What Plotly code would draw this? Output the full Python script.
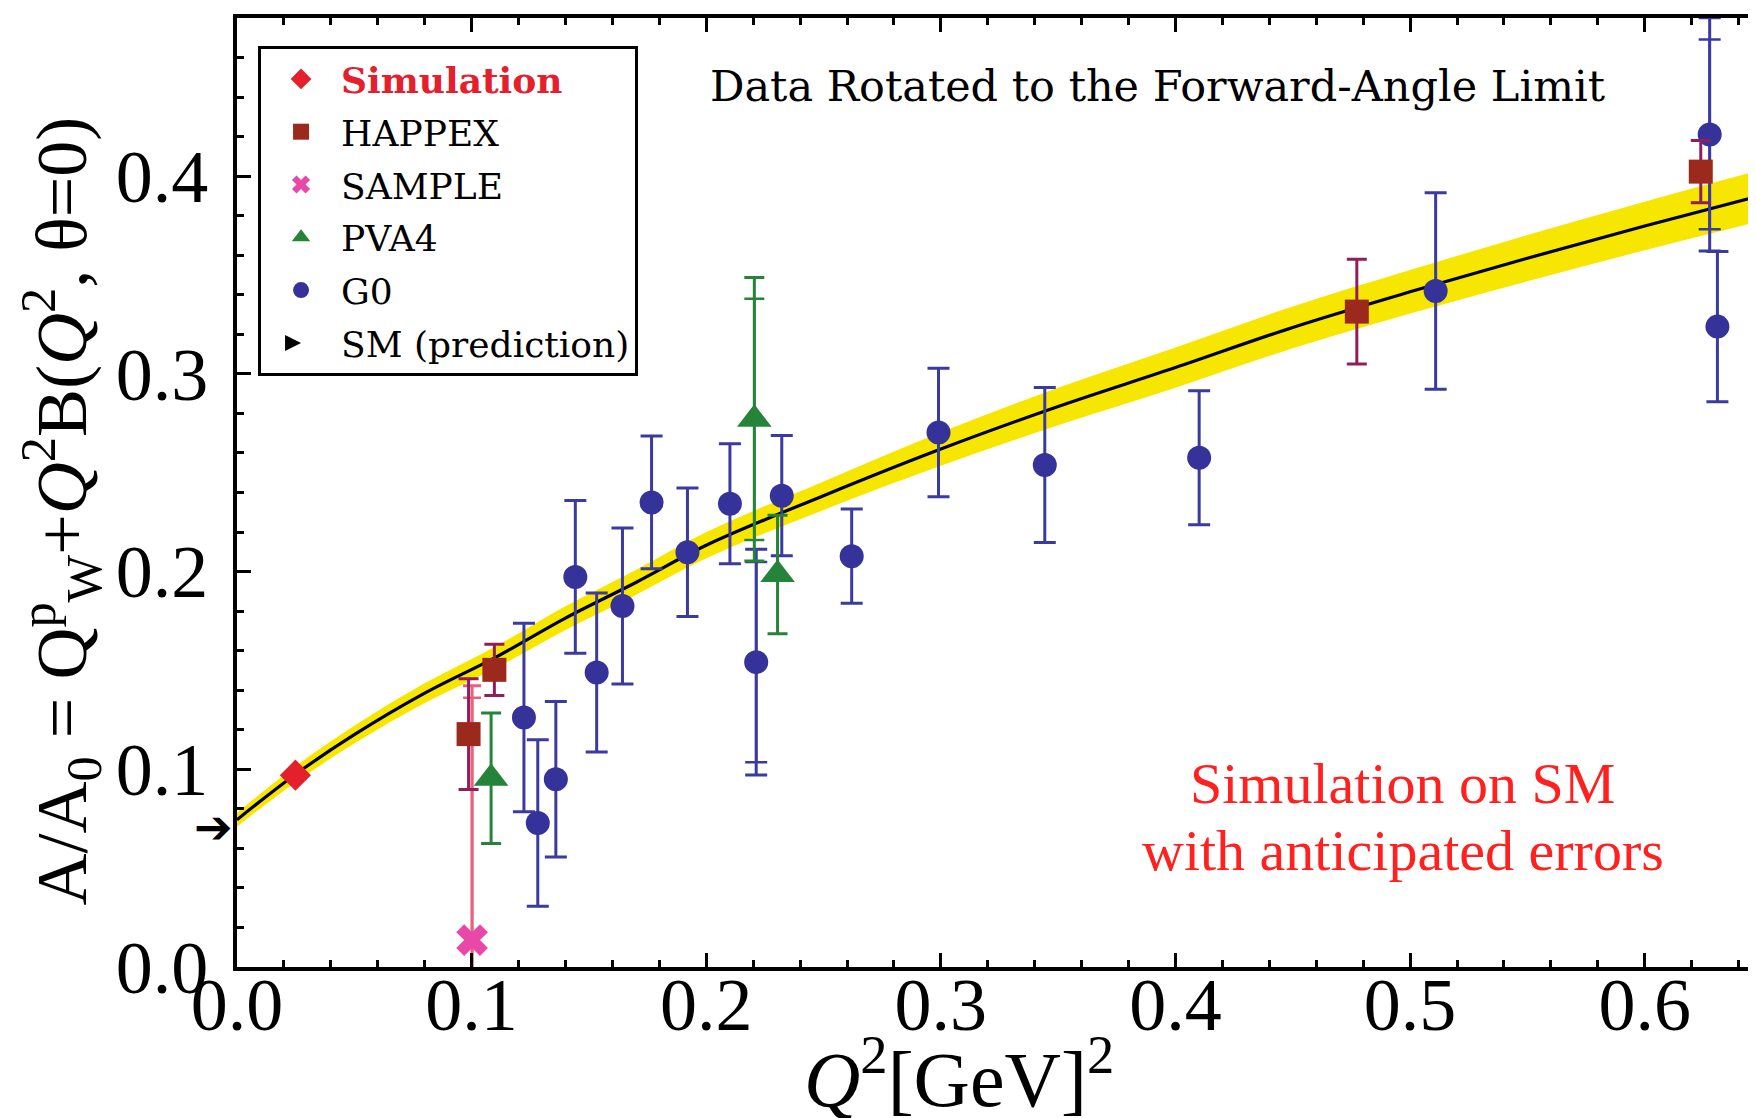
import plotly.graph_objects as go

# ---------------- data ----------------
sim_q2 = [0.0249]
sim_a = [0.0970]

happex_q2 = [0.0987, 0.1097, 0.4773, 0.6239]
happex_a = [0.1178, 0.1503, 0.3315, 0.4023]
happex_err = [0.0280, 0.0130, 0.0265, 0.0157]

sample_q2 = [0.1002]
sample_a = [0.0136]
sample_err = [0.1287]
sample_err_inner = [0.1226]

pva4_q2 = [0.1083, 0.2205, 0.2304]
pva4_a = [0.0955, 0.2770, 0.1985]
pva4_err = [0.0330, 0.0717, 0.0300]
pva4_err_inner = [0.0, 0.0610, 0.0]

g0_q2 = [0.1223, 0.1282, 0.1359, 0.1442, 0.1533, 0.1643, 0.1767, 0.1920, 0.2101,
         0.2213, 0.2322, 0.2620, 0.2990, 0.3443, 0.4101, 0.5109, 0.6277, 0.6310]
g0_a = [0.1262, 0.0728, 0.0950, 0.1973, 0.1490, 0.1826, 0.2350, 0.2098, 0.2343,
        0.1542, 0.2384, 0.2078, 0.2704, 0.2539, 0.2576, 0.3419, 0.4211, 0.3239]
g0_err = [0.0477, 0.0421, 0.0393, 0.0386, 0.0402, 0.0394, 0.0336, 0.0325, 0.0304,
          0.0571, 0.0304, 0.0238, 0.0325, 0.0392, 0.0339, 0.0497, 0.0590, 0.0380]
g0_err_inner = [0, 0, 0, 0, 0, 0, 0, 0, 0,
                0.0506, 0, 0, 0, 0, 0, 0, 0.0480, 0]

sm_q2 = [0.0, 0.025, 0.05, 0.08, 0.11, 0.14, 0.17, 0.20, 0.25, 0.30,
         0.35, 0.40, 0.45, 0.50, 0.55, 0.60, 0.65]
sm_a = [0.0745, 0.0975, 0.1175, 0.1385, 0.1565, 0.1765, 0.1945, 0.2133, 0.2384, 0.2620,
        0.2835, 0.3032, 0.3235, 0.3415, 0.3585, 0.3748, 0.3904]
sm_band = [0.0035, 0.0040, 0.0045, 0.0050, 0.0055, 0.0060, 0.0063, 0.0066, 0.0072, 0.0085,
           0.0095, 0.0102, 0.0106, 0.0110, 0.0117, 0.0123, 0.0130]
sm_qw = 0.0708

x_ticks = [0.0, 0.1, 0.2, 0.3, 0.4, 0.5, 0.6]
y_ticks = [0.0, 0.1, 0.2, 0.3, 0.4]

# ---------------- styles ----------------
C_SIM = "#e3202c"
C_HAP = "#9c2a1c"
C_HAP_ERR = "#8e1f5c"
C_SAM = "#e848a8"
C_SAM_ERR = "#e8607c"
C_PVA = "#25833a"
C_G0 = "#35339a"
C_G0_ERR = "#3b3a9f"
C_BAND = "#f7e600"

fig = go.Figure()

band_hi = [a + b for a, b in zip(sm_a, sm_band)]
band_lo = [a - b for a, b in zip(sm_a, sm_band)]
fig.add_trace(go.Scatter(x=sm_q2, y=band_lo, mode="lines", line=dict(width=0, shape="spline", color=C_BAND),
                         showlegend=False, hoverinfo="skip"))
fig.add_trace(go.Scatter(x=sm_q2, y=band_hi, mode="lines", line=dict(width=0, shape="spline", color=C_BAND),
                         fill="tonexty", fillcolor=C_BAND, showlegend=False, hoverinfo="skip"))
fig.add_trace(go.Scatter(x=sm_q2, y=sm_a, mode="lines", line=dict(width=3.2, shape="spline", color="black"),
                         showlegend=False, hoverinfo="skip"))


def inner_trace(xs, ys, errs, color, capw):
    idx = [i for i, e in enumerate(errs) if e > 0]
    if not idx:
        return
    fig.add_trace(go.Scatter(
        x=[xs[i] for i in idx], y=[ys[i] for i in idx], mode="markers",
        marker=dict(size=1, opacity=0),
        error_y=dict(type="data", array=[errs[i] for i in idx], color=color, thickness=2.5, width=capw),
        showlegend=False, hoverinfo="skip"))


# SAMPLE
inner_trace(sample_q2, sample_a, sample_err_inner, C_SAM_ERR, 9)
fig.add_trace(go.Scatter(
    x=sample_q2, y=sample_a, mode="markers", name="SAMPLE", legendgroup="c", legendrank=3,
    marker=dict(symbol="x", size=28, color=C_SAM, line=dict(width=0)),
    error_y=dict(type="data", array=sample_err, color=C_SAM_ERR, thickness=3, width=9)))

# G0
inner_trace(g0_q2, g0_a, g0_err_inner, C_G0_ERR, 11)
fig.add_trace(go.Scatter(
    x=g0_q2, y=g0_a, mode="markers", name="G0", legendgroup="e", legendrank=5,
    marker=dict(symbol="circle", size=24, color=C_G0, line=dict(width=0)),
    error_y=dict(type="data", array=g0_err, color=C_G0_ERR, thickness=3, width=11)))

# PVA4
inner_trace(pva4_q2, pva4_a, pva4_err_inner, C_PVA, 10)
fig.add_trace(go.Scatter(
    x=pva4_q2, y=pva4_a, mode="markers", name="PVA4", legendgroup="d", legendrank=4,
    marker=dict(symbol="triangle-up", size=30, color=C_PVA, line=dict(width=0)),
    error_y=dict(type="data", array=pva4_err, color=C_PVA, thickness=3, width=10)))

# HAPPEX
fig.add_trace(go.Scatter(
    x=happex_q2, y=happex_a, mode="markers", name="HAPPEX", legendgroup="b", legendrank=2,
    marker=dict(symbol="square", size=24, color=C_HAP, line=dict(width=0)),
    error_y=dict(type="data", array=happex_err, color=C_HAP_ERR, thickness=3, width=10)))

# Simulation
fig.add_trace(go.Scatter(
    x=sim_q2, y=sim_a, mode="markers", name='<span style="color:%s"><b>Simulation</b></span>' % C_SIM,
    legendgroup="a", legendrank=1,
    marker=dict(symbol="diamond", size=24, color=C_SIM, line=dict(width=0))))

# SM prediction legend entry (the arrow itself is drawn at sm_qw next to the y axis)
fig.add_trace(go.Scatter(
    x=[None], y=[None], mode="markers", name="SM (prediction)", legendgroup="f", legendrank=6,
    marker=dict(symbol="arrow-right", size=16, color="black")))

fig.add_annotation(x=0, y=sm_qw, xref="x", yref="y", text="\u2794", showarrow=False,
                   xanchor="right", yanchor="middle", xshift=-2,
                   font=dict(family="DejaVu Sans", size=46, color="black"))

fig.add_annotation(x=0.2009, y=0.4454, xref="x", yref="y", xanchor="left", yanchor="middle",
                   text="Data Rotated to the Forward-Angle Limit", showarrow=False,
                   font=dict(family="DejaVu Serif", size=43, color="black"))
fig.add_annotation(x=0.4968, y=0.0929, xref="x", yref="y", xanchor="center", yanchor="middle",
                   text="Simulation on SM", showarrow=False,
                   font=dict(family="Liberation Serif", size=58, color="#ff2020"))
fig.add_annotation(x=0.4968, y=0.0590, xref="x", yref="y", xanchor="center", yanchor="middle",
                   text="with anticipated errors", showarrow=False,
                   font=dict(family="Liberation Serif", size=58, color="#ff2020"))

# axis titles (placed as in the reference, slightly off-centre)
fig.add_annotation(x=0.4734, y=-0.112, xref="paper", yref="paper", xanchor="center", yanchor="middle",
                   text="<i>Q</i><sup>2</sup>[GeV]<sup>2</sup>", showarrow=False,
                   font=dict(family="Liberation Serif", size=78, color="black"))
fig.add_annotation(x=-0.1155, y=0.481, xref="paper", yref="paper", xanchor="center", yanchor="middle",
                   textangle=-90,
                   text="A/A<sub>0</sub> = Q<sup>p</sup><sub>W</sub>+<i>Q</i><sup>2</sup>B(<i>Q</i><sup>2</sup>, θ=0)",
                   showarrow=False, font=dict(family="Liberation Serif", size=72, color="black"))

axis_common = dict(
    showline=True, linewidth=4, linecolor="black", mirror="allticks",
    ticks="inside", ticklen=14, tickwidth=3, tickcolor="black",
    showgrid=False, zeroline=False, tickformat=".1f",
    tickfont=dict(family="Liberation Serif", size=74, color="black"),
    minor=dict(ticks="inside", ticklen=7, tickwidth=2.5, tickcolor="black", dtick=0.02, showgrid=False),
    automargin=False,
)

fig.update_xaxes(range=[0, 0.65], tickvals=x_ticks, ticklabelstandoff=-30, **axis_common)
fig.update_yaxes(range=[0, 0.48], tickvals=y_ticks, ticklabelstandoff=10, **axis_common)

fig.update_layout(
    width=1756, height=1118,
    margin=dict(l=229, r=2, t=10, b=159),
    plot_bgcolor="white", paper_bgcolor="white",
    font=dict(family="Liberation Serif", color="black"),
    showlegend=True,
    legend=dict(x=0.0138, y=0.9705, xanchor="left", yanchor="top",
                bgcolor="white", bordercolor="black", borderwidth=3,
                font=dict(family="DejaVu Serif", size=36, color="black"),
                itemwidth=70, tracegroupgap=3, traceorder="grouped"),
)

fig.write_html("out.html")
